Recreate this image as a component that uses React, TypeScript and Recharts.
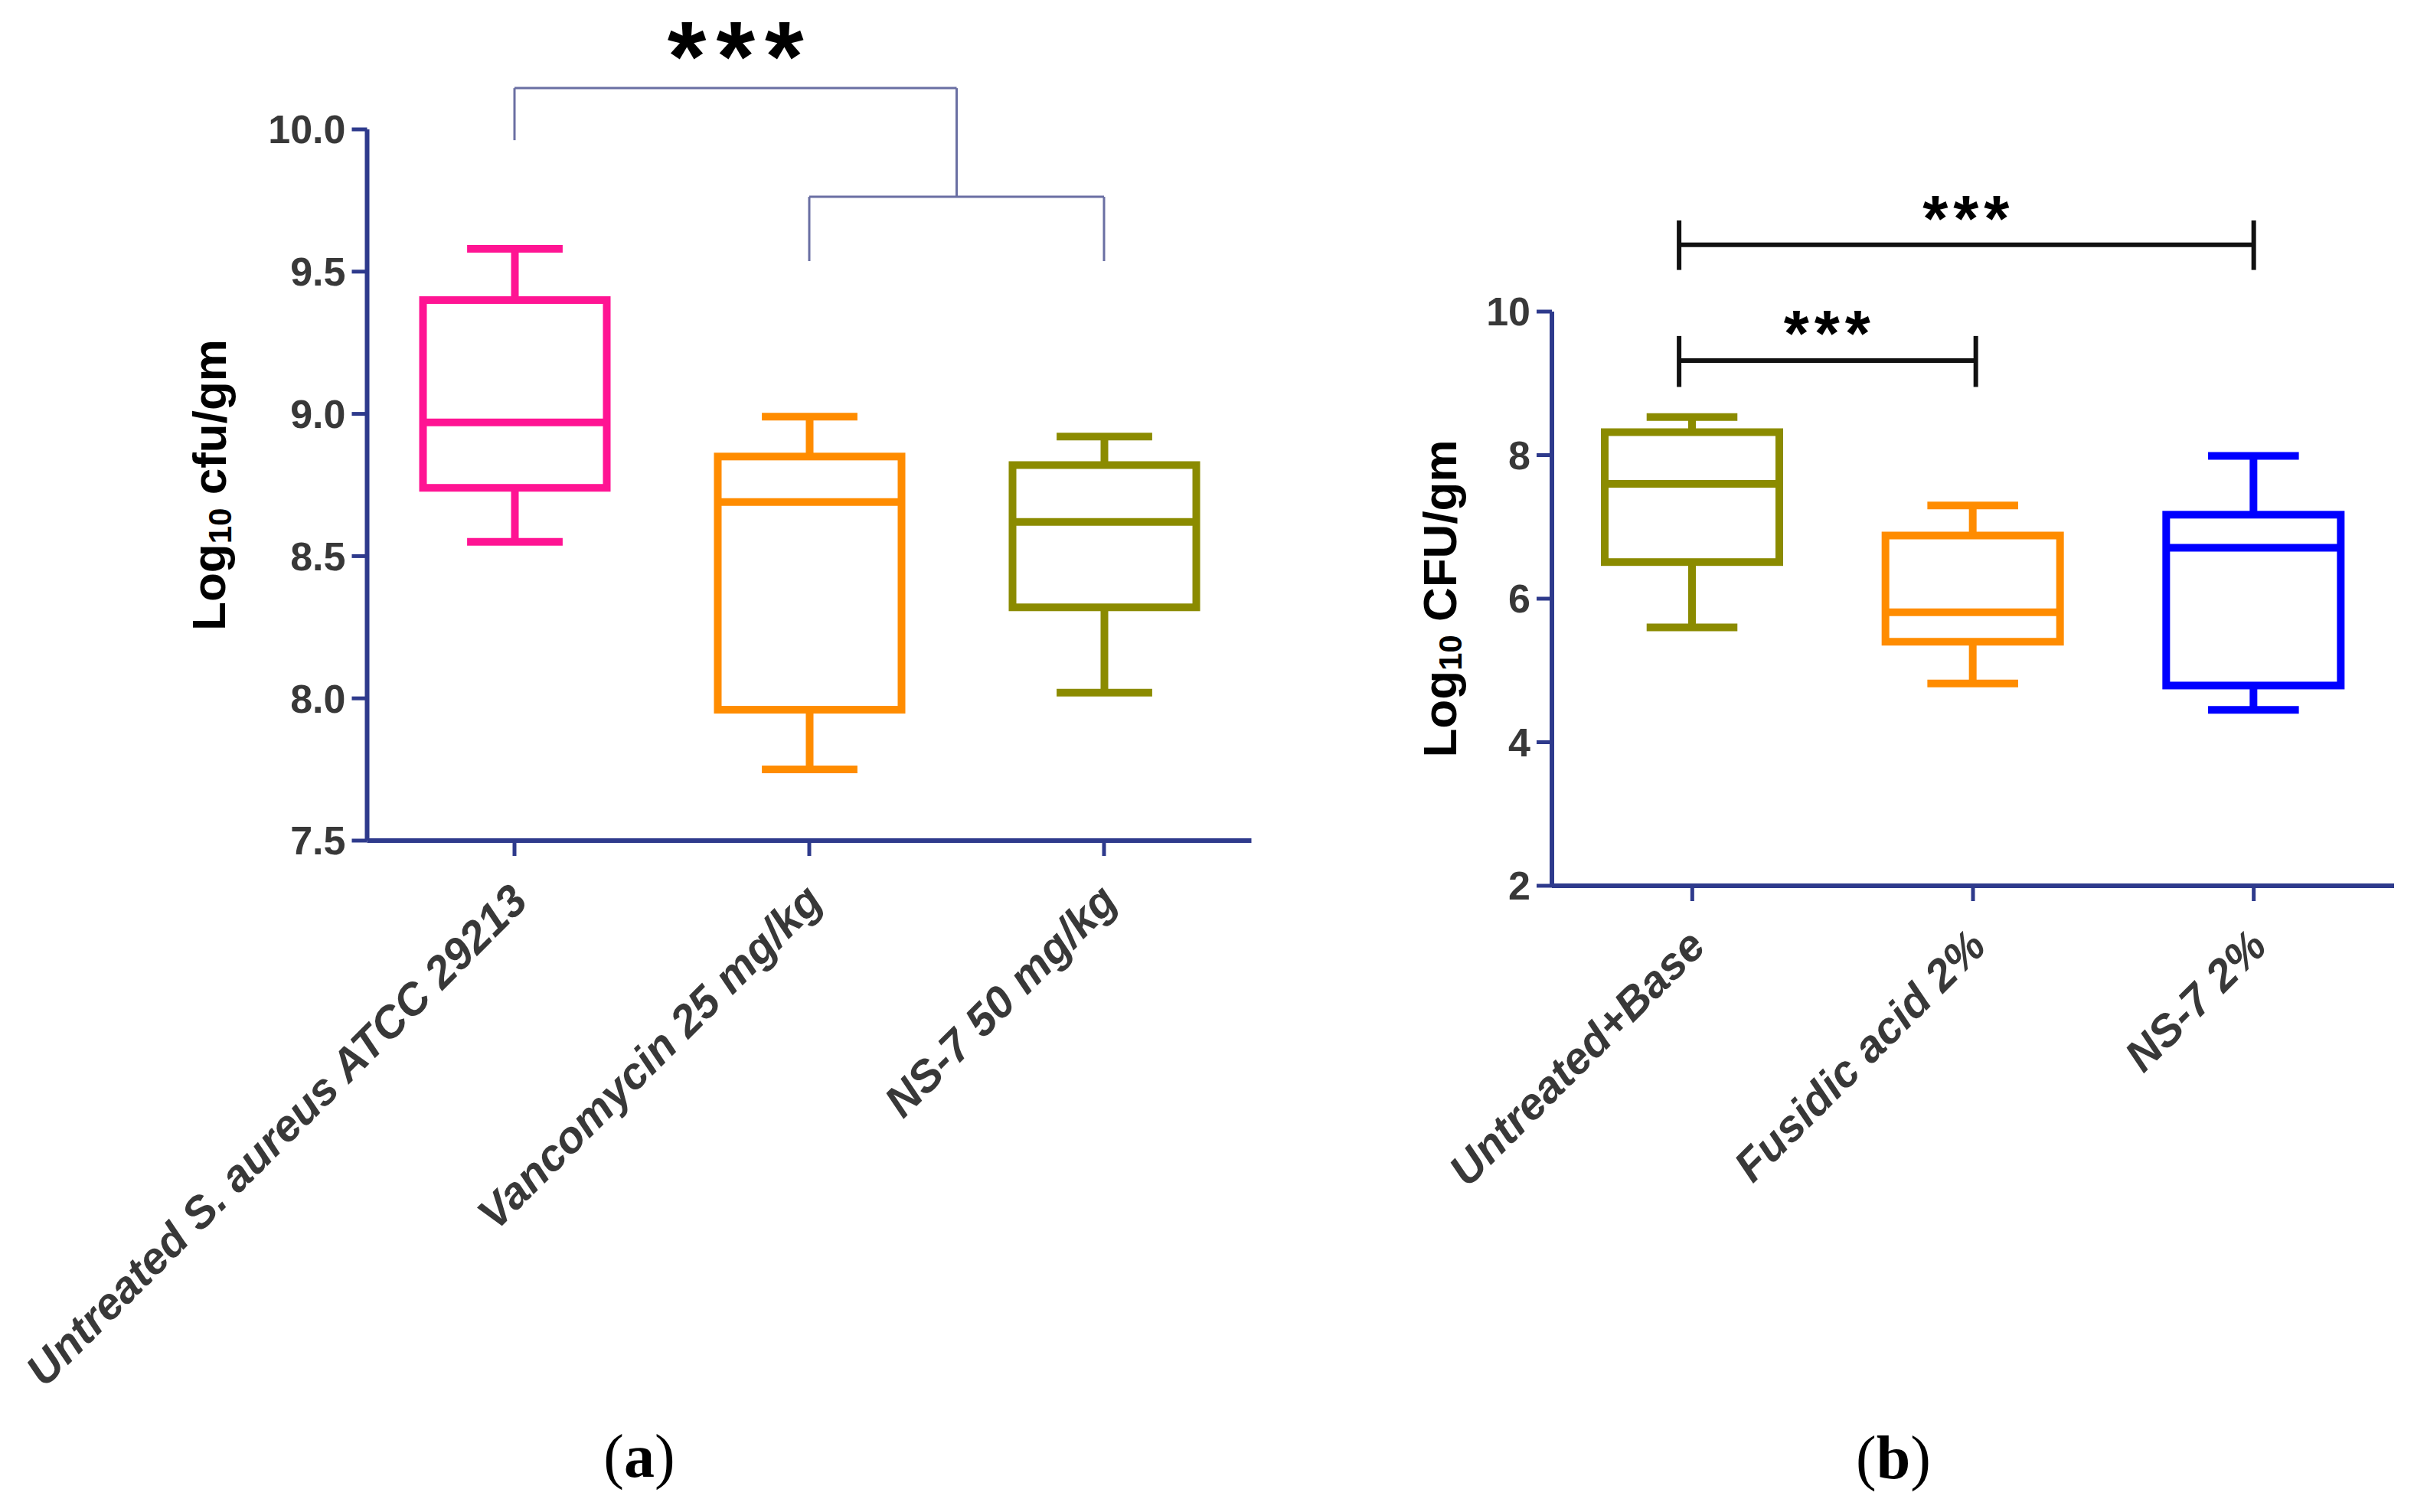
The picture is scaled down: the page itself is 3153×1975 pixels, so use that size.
import React from "react";
import {
  ComposedChart,
  Bar,
  XAxis,
  YAxis,
  ReferenceLine,
  ReferenceDot,
} from "recharts";

// panel (a): systemic treatment
const groupsA = [
  "Untreated S. aureus ATCC 29213",
  "Vancomycin 25 mg/kg",
  "NS-7 50 mg/kg",
];
const minA = [8.55, 7.75, 8.02];
const q1A = [8.74, 7.96, 8.32];
const medianA = [8.97, 8.69, 8.62];
const q3A = [9.4, 8.85, 8.82];
const maxA = [9.58, 8.99, 8.92];
const colorsA = ["#FF1493", "#FF8C00", "#8B8B00"];
const ticksA = [7.5, 8.0, 8.5, 9.0, 9.5, 10.0];

// panel (b): topical treatment
const groupsB = ["Untreated+Base", "Fusidic acid 2%", "NS-7 2%"];
const minB = [5.6, 4.82, 4.45];
const q1B = [6.51, 5.4, 4.79];
const medianB = [7.6, 5.81, 6.71];
const q3B = [8.32, 6.88, 7.17];
const maxB = [8.53, 7.3, 7.99];
const colorsB = ["#8B8B00", "#FF8C00", "#0000FF"];
const ticksB = [2, 4, 6, 8, 10];

// significance brackets, x in group units (group i centre = i + 0.5)
const bracketA = [
  [0.5, 10.145, 0.5, 9.962],
  [0.5, 10.145, 2.0, 10.145],
  [2.0, 10.145, 2.0, 9.763],
  [1.5, 9.763, 2.5, 9.763],
  [1.5, 9.763, 1.5, 9.537],
  [2.5, 9.763, 2.5, 9.537],
];
const starsA = [[1.25, 10.296]];

const bracketB = [
  [0.453, 10.93, 2.5, 10.93],
  [0.453, 11.27, 0.453, 10.58],
  [2.5, 11.27, 2.5, 10.58],
  [0.453, 9.317, 1.51, 9.317],
  [0.453, 9.66, 0.453, 8.95],
  [1.51, 9.66, 1.51, 8.95],
];
const starsB = [
  [1.475, 11.43],
  [0.98, 9.83],
];

const FONT = "'Liberation Sans', Arial, sans-serif";
const AXIS = "#2E3A8C";
const TICK_TEXT = "#383838";

const build = (names, mins, q1s, meds, q3s, maxs, colors) =>
  names.map((name, i) => ({
    name,
    pos: i + 0.5,
    min: mins[i],
    q1: q1s[i],
    median: meds[i],
    q3: q3s[i],
    max: maxs[i],
    color: colors[i],
  }));

const dataA = build(groupsA, minA, q1A, medianA, q3A, maxA, colorsA);
const dataB = build(groupsB, minB, q1B, medianB, q3B, maxB, colorsB);

const BoxShape = (props: any) => {
  const { x, y, width, height, payload } = props;
  if (!payload) return null;
  const { min, q1, median, q3, max, color } = payload;
  const top = Math.min(y, y + height);
  const h = Math.abs(height);
  const py = (v: number) => top + (h * (max - v)) / (max - min);
  const cx = x + width / 2;
  const cap = width * 0.26;
  const sw = 10;
  return (
    <g stroke={color} strokeWidth={sw} fill="none">
      <line x1={cx} x2={cx} y1={py(max)} y2={py(q3)} />
      <line x1={cx} x2={cx} y1={py(q1)} y2={py(min)} />
      <line x1={cx - cap} x2={cx + cap} y1={py(max)} y2={py(max)} />
      <line x1={cx - cap} x2={cx + cap} y1={py(min)} y2={py(min)} />
      <rect x={x} y={py(q3)} width={width} height={py(q1) - py(q3)} />
      <line x1={x} x2={x + width} y1={py(median)} y2={py(median)} />
    </g>
  );
};

const SlantTick = (props: any) => {
  const { x, y, payload } = props;
  return (
    <text
      x={0}
      y={0}
      transform={`translate(${x + 20},${y + 60}) rotate(-45)`}
      textAnchor="end"
      fontFamily={FONT}
      fontSize={58}
      fontWeight="bold"
      fontStyle="italic"
      fill={TICK_TEXT}
    >
      {payload.value}
    </text>
  );
};

const yTitle = (unit: string, offset: number) => (props: any) => {
  const vb = props.viewBox || {};
  const cx = vb.x + vb.width - offset;
  const cy = vb.y + vb.height / 2;
  return (
    <text
      x={cx}
      y={cy}
      transform={`rotate(-90, ${cx}, ${cy})`}
      textAnchor="middle"
      dominantBaseline="central"
      fontFamily={FONT}
      fontSize={62}
      fontWeight="bold"
      fill="#000"
    >
      Log
      <tspan fontSize={42} dy={14}>
        10
      </tspan>
      <tspan dy={-14}>{" " + unit}</tspan>
    </text>
  );
};

const Stars = (size: number, spacing: number, baseShift: number) => (p: any) =>
  (
    <text
      x={p.cx + spacing / 2}
      y={p.cy + baseShift}
      textAnchor="middle"
      fontFamily={FONT}
      fontSize={size}
      fontWeight="bold"
      letterSpacing={spacing}
      fill="#000"
    >
      ***
    </text>
  );

const panelLabel = (letter: string, cx: number, cy: number) => (
  <div
    style={{
      position: "absolute",
      left: cx - 100,
      top: cy - 50,
      width: 200,
      height: 100,
      lineHeight: "100px",
      textAlign: "center",
      fontFamily: "'Liberation Serif', 'Times New Roman', serif",
      fontSize: 80,
      color: "#000",
    }}
  >
    (<b>{letter}</b>)
  </div>
);

export default function App() {
  return (
    <div
      style={{
        position: "absolute",
        left: 0,
        top: 0,
        width: 3153,
        height: 1975,
        background: "#fff",
      }}
    >
      <div style={{ position: "absolute", left: 0, top: 0 }}>
        <ComposedChart
          width={1700}
          height={1975}
          data={dataA}
          margin={{ top: 169, right: 65.5, bottom: 177, left: 339.5 }}
        >
          <XAxis
            dataKey="name"
            interval={0}
            height={700}
            tickSize={20}
            axisLine={{ stroke: AXIS, strokeWidth: 6 }}
            tickLine={{ stroke: AXIS, strokeWidth: 5 }}
            tick={<SlantTick />}
          />
          <XAxis
            xAxisId="n"
            dataKey="pos"
            type="number"
            domain={[0, 3]}
            allowDataOverflow
            hide
          />
          <YAxis
            type="number"
            domain={[7.5, 10]}
            ticks={ticksA}
            interval={0}
            width={140}
            tickSize={20}
            tickMargin={8}
            tickFormatter={(v: number) => v.toFixed(1)}
            axisLine={{ stroke: AXIS, strokeWidth: 6 }}
            tickLine={{ stroke: AXIS, strokeWidth: 5 }}
            tick={{
              fill: TICK_TEXT,
              fontSize: 52,
              fontWeight: "bold",
              fontFamily: FONT,
            }}
            label={yTitle("cfu/gm", 207)}
          />
          <Bar
            dataKey={(d: any) => [d.min, d.max]}
            barSize={240}
            shape={BoxShape}
            isAnimationActive={false}
          />
          {bracketA.map((s, i) => (
            <ReferenceLine
              key={"ba" + i}
              xAxisId="n"
              segment={[
                { x: s[0], y: s[1] },
                { x: s[2], y: s[3] },
              ]}
              stroke="#6A6FA3"
              strokeWidth={3}
              ifOverflow="visible"
            />
          ))}
          {starsA.map((s, i) => (
            <ReferenceDot
              key={"sa" + i}
              xAxisId="n"
              x={s[0]}
              y={s[1]}
              r={0}
              ifOverflow="visible"
              shape={Stars(130, 13, 60)}
            />
          ))}
        </ComposedChart>
      </div>

      <div style={{ position: "absolute", left: 1750, top: 0 }}>
        <ComposedChart
          width={1403}
          height={1975}
          data={dataB}
          margin={{ top: 407, right: 26, bottom: 118, left: 137 }}
        >
          <XAxis
            dataKey="name"
            interval={0}
            height={700}
            tickSize={20}
            axisLine={{ stroke: AXIS, strokeWidth: 6 }}
            tickLine={{ stroke: AXIS, strokeWidth: 5 }}
            tick={<SlantTick />}
          />
          <XAxis
            xAxisId="n"
            dataKey="pos"
            type="number"
            domain={[0, 3]}
            allowDataOverflow
            hide
          />
          <YAxis
            type="number"
            domain={[2, 10]}
            ticks={ticksB}
            interval={0}
            width={140}
            tickSize={20}
            tickMargin={8}
            axisLine={{ stroke: AXIS, strokeWidth: 6 }}
            tickLine={{ stroke: AXIS, strokeWidth: 5 }}
            tick={{
              fill: TICK_TEXT,
              fontSize: 52,
              fontWeight: "bold",
              fontFamily: FONT,
            }}
            label={yTitle("CFU/gm", 147)}
          />
          <Bar
            dataKey={(d: any) => [d.min, d.max]}
            barSize={228}
            shape={BoxShape}
            isAnimationActive={false}
          />
          {bracketB.map((s, i) => (
            <ReferenceLine
              key={"bb" + i}
              xAxisId="n"
              segment={[
                { x: s[0], y: s[1] },
                { x: s[2], y: s[3] },
              ]}
              stroke="#111"
              strokeWidth={6}
              ifOverflow="visible"
            />
          ))}
          {starsB.map((s, i) => (
            <ReferenceDot
              key={"sb" + i}
              xAxisId="n"
              x={s[0]}
              y={s[1]}
              r={0}
              ifOverflow="visible"
              shape={Stars(85, 7, 42)}
            />
          ))}
        </ComposedChart>
      </div>

      {panelLabel("a", 835, 1902)}
      {panelLabel("b", 2473, 1904)}
    </div>
  );
}
